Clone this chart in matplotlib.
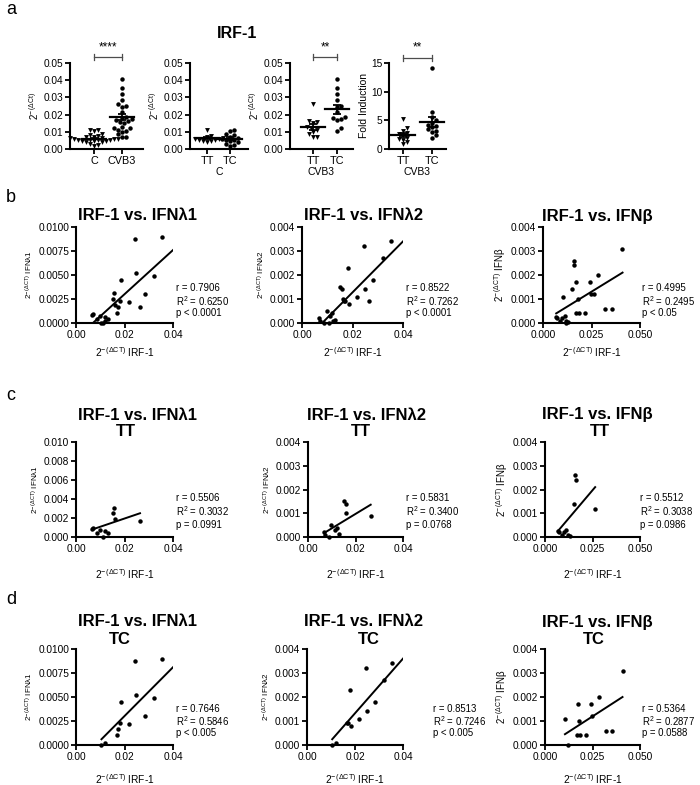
import numpy as np
import matplotlib
matplotlib.use("Agg")
import matplotlib.pyplot as plt

plt.rcParams['font.family'] = ['Liberation Sans', 'DejaVu Sans']
plt.rcParams['mathtext.fontset'] = 'custom'
plt.rcParams['mathtext.rm'] = 'Liberation Sans'
plt.rcParams['mathtext.it'] = 'Liberation Sans:italic'
plt.rcParams['mathtext.bf'] = 'Liberation Sans:bold'
plt.rcParams['mathtext.default'] = 'regular'

# ---- data ----
# panel a: IRF-1 2^-(dCt) in control cells by genotype
ctrl_tt = [0.0110, 0.0075, 0.0068, 0.0062, 0.0060, 0.0058, 0.0055, 0.0052, 0.0048, 0.0045, 0.0040]
ctrl_tc = [0.0108, 0.0105, 0.0090, 0.0080, 0.0070, 0.0065, 0.0060, 0.0055, 0.0050, 0.0045,
           0.0040, 0.0030, 0.0025, 0.0020]
# IRF-1 in CVB3 infected cells (also x values for b-d)
irf_tt = [0.0068, 0.0072, 0.0088, 0.0098, 0.0112, 0.0120, 0.0130, 0.0152, 0.0158, 0.0162, 0.0264]
irf_tc = [0.0105, 0.0121, 0.0168, 0.0172, 0.0181, 0.0185, 0.0217, 0.0244, 0.0248, 0.0283,
          0.0321, 0.0354, 0.0408]
fold_tt = [5.3, 3.6, 3.2, 2.8, 2.6, 2.4, 2.0, 1.8, 1.6, 1.2, 0.8]
fold_tc = [14.2, 6.5, 5.5, 5.0, 4.5, 4.2, 4.0, 3.8, 3.5, 3.2, 3.0, 2.5, 2.0]

# IFN expression, same sample order as irf_tt / irf_tc
ifnl1_tt = [0.0008, 0.0009, 0.0004, 0.0007, 0.0000, 0.0006, 0.0004, 0.0025, 0.0031, 0.0019, 0.0017]
ifnl1_tc = [0.0000, 0.0002, 0.0010, 0.0017, 0.0023, 0.0045, 0.0022, 0.0088, 0.0052, 0.0030,
            0.0049, 0.0090, 0.0060]
ifnl2_tt = [0.0002, 0.0001, 0.0000, 0.0005, 0.0003, 0.0004, 0.00014, 0.0015, 0.0014, 0.0010, 0.0009]
ifnl2_tc = [0.0000, 0.0001, 0.0009, 0.0009, 0.0023, 0.0008, 0.0011, 0.0032, 0.0014, 0.0018,
            0.0027, 0.0034, 0.0030]
ifnb_tt = [0.00025, 0.0002, 0.0001, 0.0002, 0.0003, 0.0001, 0.00005, 0.0014, 0.0026, 0.0024, 0.0012]
ifnb_tc = [0.0011, 0.0000, 0.0004, 0.0017, 0.0010, 0.0004, 0.0004, 0.0017, 0.0012, 0.0020,
           0.0006, 0.0006, 0.0031]

genes = ['IFNλ1', 'IFNλ2', 'IFNβ']

# regression line ends (x0, y0, x1, y1) as drawn in the figure
fit_all = [(0.0074, 0.0001, 0.0400, 0.0076), (0.0080, 0.0000, 0.0400, 0.0034), (0.0068, 0.0004, 0.0410, 0.0021)]
fit_tt = [(0.0068, 0.0008, 0.0264, 0.0025), (0.0068, 0.00017, 0.0264, 0.00136), (0.0068, 0.00025, 0.0264, 0.0021)]
fit_tc = [(0.0105, 0.0006, 0.0400, 0.0081), (0.0105, 0.00024, 0.0400, 0.0036), (0.0105, 0.00045, 0.0408, 0.0020)]

stats_all = [('0.7906', '0.6250', 'p < 0.0001'), ('0.8522', '0.7262', 'p < 0.0001'), ('0.4995', '0.2495', 'p < 0.05')]
stats_tt = [('0.5506', '0.3032', 'p = 0.0991'), ('0.5831', '0.3400', 'p = 0.0768'), ('0.5512', '0.3038', 'p = 0.0986')]
stats_tc = [('0.7646', '0.5846', 'p < 0.005'), ('0.8513', '0.7246', 'p < 0.005'), ('0.5364', '0.2877', 'p = 0.0588')]

W, H = 700, 785
fig = plt.figure(figsize=(W / 100, H / 100), dpi=100)


def add_ax(left, top, right, bottom):
    return fig.add_axes([left / W, 1 - bottom / H, (right - left) / W, (bottom - top) / H])


def style(ax):
    for s in ['top', 'right']:
        ax.spines[s].set_visible(False)
    for s in ['left', 'bottom']:
        ax.spines[s].set_linewidth(1.5)
    ax.tick_params(direction='out', length=3.5, width=1.3, labelsize=7.3, pad=1.5)


def swarm_offsets(vals, xpx, ypx, d=4.0):
    # simple beeswarm, offsets in x data units
    vals = np.asarray(vals, float)
    offs = np.zeros(len(vals))
    placed = []
    for i in np.argsort(vals):
        y = vals[i] * ypx
        for k in range(80):
            x = ((k + 1) // 2) * (1 if k % 2 else -1) * d * 0.5
            if all((x - px) ** 2 + (y - py) ** 2 >= d * d for px, py in placed):
                break
        placed.append((x, y))
        offs[i] = x / xpx
    return offs


def dotplot(ax, groups, markers, xpx, ypx):
    for pos, (vals, mk) in enumerate(zip(groups, markers)):
        vals = np.asarray(vals)
        off = swarm_offsets(vals, xpx, ypx)
        ms = 3.5 if mk == 'v' else 3.2
        ax.plot(pos + off, vals, mk, color='black', ms=ms, mew=0, clip_on=False)
        m = vals.mean()
        sem = vals.std(ddof=1) / np.sqrt(len(vals))
        hw = 12 / xpx
        ax.plot([pos - hw, pos + hw], [m, m], color='black', lw=1.6)
        ax.errorbar(pos, m, yerr=sem, color='black', lw=1.3, capsize=3.2, capthick=1.3)


def sig(ax, y, h, text, ty):
    ax.plot([0, 1], [y, y], color='0.3', lw=0.9, clip_on=False)
    for xx in (0, 1):
        ax.plot([xx, xx], [y - h, y + h], color='0.3', lw=0.9, clip_on=False)
    ax.text(0.5, ty, text, ha='center', va='center', fontsize=8.5)


# ---------------- panel a ----------------
ylab_a = r'$2^{-\,(\Delta Ct)}$'
a_specs = [
    # left, right, xpos of first/second tick (px)
    (70, 143, 94, 122),
    (190, 248, 207, 230),
    (290, 353, 313, 337),
    (389, 446, 403, 432),
]
axes_a = []
for (L, R, p0, p1) in a_specs:
    ax = add_ax(L, 63, R, 149)
    unit = p1 - p0
    ax.set_xlim((L - p0) / unit, (R - p0) / unit)
    style(ax)
    axes_a.append((ax, unit))

ypx_a = 86 / 0.05
ax, unit = axes_a[0]
dotplot(ax, [ctrl_tt + ctrl_tc, irf_tt + irf_tc], ['v', 'o'], unit, ypx_a)
ax.set_xticks([0, 1], ['C', 'CVB3'])
sig(ax, 0.0535, 0.0018, '****', 0.0588)

ax, unit = axes_a[1]
dotplot(ax, [ctrl_tt, ctrl_tc], ['v', 'o'], unit, ypx_a)
ax.set_xticks([0, 1], ['TT', 'TC'])
ax.set_xlabel('C', fontsize=7.5, labelpad=1)

ax, unit = axes_a[2]
dotplot(ax, [irf_tt, irf_tc], ['v', 'o'], unit, ypx_a)
ax.set_xticks([0, 1], ['TT', 'TC'])
ax.set_xlabel('CVB3', fontsize=7.5, labelpad=1)
sig(ax, 0.0535, 0.0018, '**', 0.0588)

for ax, unit in axes_a[:3]:
    ax.set_ylim(0, 0.05)
    ax.set_yticks(np.arange(0, 0.051, 0.01))
    ax.yaxis.set_major_formatter(plt.FormatStrFormatter('%.2f'))
    ax.set_ylabel(ylab_a, fontsize=7, labelpad=2)

ax, unit = axes_a[3]
dotplot(ax, [fold_tt, fold_tc], ['v', 'o'], unit, 87 / 15)
ax.set_ylim(0, 15)
ax.set_yticks([0, 5, 10, 15])
ax.set_xticks([0, 1], ['TT', 'TC'])
ax.set_xlabel('CVB3', fontsize=7.5, labelpad=1)
ax.set_ylabel('Fold Induction', fontsize=7.5, labelpad=1)
sig(ax, 15.9, 0.55, '**', 17.7)

for ax, unit in axes_a:
    ax.tick_params(axis='x', labelsize=7.8)

fig.text(237 / W, 1 - 33 / H, 'IRF-1', ha='center', va='center', fontsize=11.5, fontweight='bold')

# ---------------- panels b-d ----------------
ifn_tt = [ifnl1_tt, ifnl2_tt, ifnb_tt]
ifn_tc = [ifnl1_tc, ifnl2_tc, ifnb_tc]

rows = [
    dict(top=227, bottom=323, lefts=[76, 302, 543], rights=[173, 403, 640],
         xs=[irf_tt + irf_tc] * 3, ys=[a + b for a, b in zip(ifn_tt, ifn_tc)],
         fits=fit_all, stats=stats_all, sub=None, sx=[1.03, 1.03, 1.02],
         tx=[137, 364, 597], ty=216, subx=None, suby=None, xl=345, ry=[0.36, 0.23, 0.10]),
    dict(top=442, bottom=537, lefts=[76, 308, 545], rights=[173, 403, 640],
         xs=[irf_tt] * 3, ys=ifn_tt,
         fits=fit_tt, stats=stats_tt, sub='TT', sx=[1.03, 1.03, 1.0],
         tx=[137, 366, 597], ty=415, subx=[126, 361, 600], suby=432, xl=567, ry=[0.41, 0.27, 0.13]),
    dict(top=649, bottom=745, lefts=[76, 307, 545], rights=[173, 403, 640],
         xs=[irf_tc] * 3, ys=ifn_tc,
         fits=fit_tc, stats=stats_tc, sub='TC', sx=[1.03, 1.31, 1.02],
         tx=[137, 363, 597], ty=622, subx=[120, 369, 594], suby=640, xl=772, ry=[0.38, 0.25, 0.12]),
]

letters = [('a', 10), ('b', 198), ('c', 395), ('d', 600)]
for lt, y in letters:
    fig.text(6 / W, 1 - y / H, lt, ha='left', va='center', fontsize=13)

xlab = r'$2^{-\,(\Delta CT)}$ IRF-1'
for ri, row in enumerate(rows):
    for ci in range(3):
        ax = add_ax(row['lefts'][ci], row['top'], row['rights'][ci], row['bottom'])
        style(ax)
        gene = genes[ci]
        if ci == 2:
            xmax, xt, xf = 0.05, [0, 0.025, 0.05], '%.3f'
        else:
            xmax, xt, xf = 0.04, [0, 0.02, 0.04], '%.2f'
        if ci == 0 and ri != 1:
            ymax, yt, yf = 0.01, np.arange(0, 0.01001, 0.0025), '%.4f'
        elif ci == 0:
            ymax, yt, yf = 0.01, np.arange(0, 0.01001, 0.002), '%.3f'
        else:
            ymax, yt, yf = 0.004, np.arange(0, 0.00401, 0.001), '%.3f'
        ax.set_xlim(0, xmax)
        ax.set_ylim(0, ymax)
        ax.set_xticks(xt)
        ax.set_yticks(yt)
        ax.xaxis.set_major_formatter(plt.FormatStrFormatter(xf))
        ax.yaxis.set_major_formatter(plt.FormatStrFormatter(yf))

        x = np.asarray(row['xs'][ci])
        y = np.asarray(row['ys'][ci])
        keep = (x <= xmax) & (y <= ymax)
        ax.plot(x[keep], y[keep], 'o', color='black', ms=3.2, mew=0, clip_on=False)
        x0, y0, x1, y1 = row['fits'][ci]
        ax.plot([x0, x1], [y0, y1], color='black', lw=1.4)

        r, r2, p = row['stats'][ci]
        for txt, yy in zip(['r = ' + r, r'R$^2$ = ' + r2, p], row['ry']):
            ax.text(row['sx'][ci], yy, txt, transform=ax.transAxes, ha='left', va='center', fontsize=6.9)

        ylab = r'$2^{-\,(\Delta CT)}$ ' + gene
        ax.set_ylabel(ylab, fontsize=7 if ci == 2 else 5.8, labelpad=2)
        ax.set_xlabel(xlab, fontsize=7.3)
        h = row['bottom'] - row['top']
        ax.xaxis.set_label_coords(0.5, (row['bottom'] - row['xl']) / h)

        fig.text(row['tx'][ci] / W, 1 - row['ty'] / H, 'IRF-1 vs. ' + gene, ha='center', va='center',
                 fontsize=12, fontweight='bold')
        if row['sub']:
            fig.text(row['subx'][ci] / W, 1 - row['suby'] / H, row['sub'], ha='center', va='center',
                     fontsize=12, fontweight='bold')

fig.savefig('out.png', dpi=100)
